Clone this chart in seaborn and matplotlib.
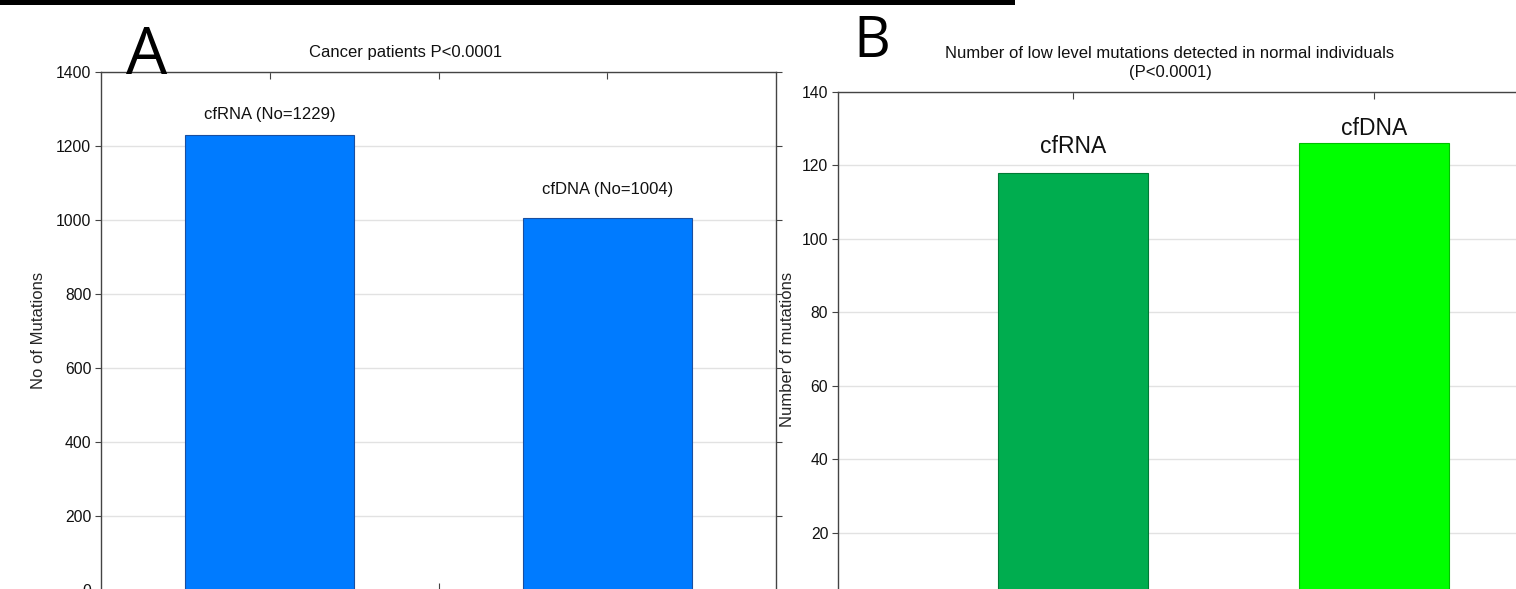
import matplotlib
matplotlib.use('Agg')
import matplotlib.pyplot as plt
import seaborn as sns
import pandas as pd
from matplotlib.patches import Rectangle

# 数据
cats_a = ['cfRNA', 'cfDNA']
vals_a = [1229, 1004]
labels_a = ['cfRNA (No=1229)', 'cfDNA (No=1004)']

cats_b = ['cfRNA', 'cfDNA']
vals_b = [118, 126]
labels_b = ['cfRNA', 'cfDNA']

yticks_a = [0, 200, 400, 600, 800, 1000, 1200, 1400]
yticks_b = [20, 40, 60, 80, 100, 120, 140]

sns.set_theme(style="white")
plt.rcParams['font.family'] = ['Liberation Sans', 'DejaVu Sans']

W, H = 1516, 589
fig = plt.figure(figsize=(W / 100, H / 100), dpi=100)


def px_axes(left, top, right, bottom):
    return fig.add_axes([left / W, 1 - bottom / H, (right - left) / W, (bottom - top) / H])


def style_axes(ax):
    for s in ax.spines.values():
        s.set_color('#444444')
        s.set_linewidth(1.0)
    ax.yaxis.grid(True, color='#e2e2e2', linewidth=1.0)
    ax.set_axisbelow(True)
    ax.tick_params(axis='y', which='both', left=True, right=True, direction='out',
                   length=4, width=0.8, color='#444444', labelsize=11.3, pad=3,
                   labelcolor='#111111')
    ax.tick_params(axis='x', which='both', top=True, bottom=True, direction='in',
                   length=5, width=0.8, color='#444444', labelbottom=False)
    ax.set_xlabel('')


# 图A
ax_a = px_axes(101, 71.7, 776, 589.7)
df_a = pd.DataFrame({'cat': cats_a, 'val': vals_a})
sns.barplot(data=df_a, x='cat', y='val', hue='cat', palette=['#007bff', '#007bff'],
            width=0.5, legend=False, ax=ax_a, saturation=1)
for p in ax_a.patches:
    p.set_edgecolor('#1a4fa0')
    p.set_linewidth(0.8)
ax_a.set_xlim(-0.5, 1.5)
ax_a.set_ylim(0, 1400)
ax_a.set_yticks(yticks_a)
ax_a.set_xticks([0, 0.5, 1])
style_axes(ax_a)
ax_a.set_ylabel('No of Mutations', fontsize=12, ha='center', va='center')
ax_a.yaxis.set_label_coords(-0.092, 0.5)
for i, (v, t, off) in enumerate(zip(vals_a, labels_a, [11.5, 17.3])):
    ax_a.annotate(t, (i, v), xytext=(0, off), textcoords='offset points',
                  ha='center', va='baseline', fontsize=12, color='#111111')

# 图B
ax_b = px_axes(838, 92, 838 + 2.56 * 301, 606.5)
df_b = pd.DataFrame({'cat': cats_b, 'val': vals_b})
sns.barplot(data=df_b, x='cat', y='val', hue='cat', palette=['#00ad4f', '#00ff00'],
            width=0.5, legend=False, ax=ax_b, saturation=1)
for p, ec in zip(ax_b.patches, ['#007a35', '#00c000']):
    p.set_edgecolor(ec)
    p.set_linewidth(0.8)
ax_b.set_xlim(-0.78, 1.78)
ax_b.set_ylim(0, 140)
ax_b.set_yticks(yticks_b)
ax_b.set_xticks([0, 1])
style_axes(ax_b)
ax_b.spines['right'].set_visible(False)
ax_b.set_ylabel('Number of mutations', fontsize=12, ha='center', va='center')
ax_b.yaxis.set_label_coords(-0.066, 0.5)
for i, (v, t, off) in enumerate(zip(vals_b, labels_b, [14.4, 5.8])):
    ax_b.annotate(t, (i, v), xytext=(0, off), textcoords='offset points',
                  ha='center', va='baseline', fontsize=16.5, color='#111111')

# 标题
fig.text(406 / W, 1 - 52 / H, 'Cancer patients P<0.0001', ha='center', va='center',
         fontsize=12, color='#111111')
fig.text(1170 / W, 1 - 63 / H,
         'Number of low level mutations detected in normal individuals\n(P<0.0001)',
         ha='center', va='center', fontsize=12, color='#111111', linespacing=1.35)

# 面板字母
fig.text(146.5 / W, 1 - 74 / H, 'A', ha='center', va='baseline', fontsize=47,
         family=['Open Sans', 'DejaVu Sans'], color='black')
fig.text(872 / W, 1 - 57 / H, 'B', ha='center', va='baseline', fontsize=41,
         family=['Open Sans', 'DejaVu Sans'], color='black')

# 顶部黑条
fig.patches.append(Rectangle((0, 1 - 5 / H), 1015 / W, 5 / H, transform=fig.transFigure,
                             facecolor='black', edgecolor='none', zorder=10))

plt.savefig('out.png', dpi=100)
plt.close(fig)
